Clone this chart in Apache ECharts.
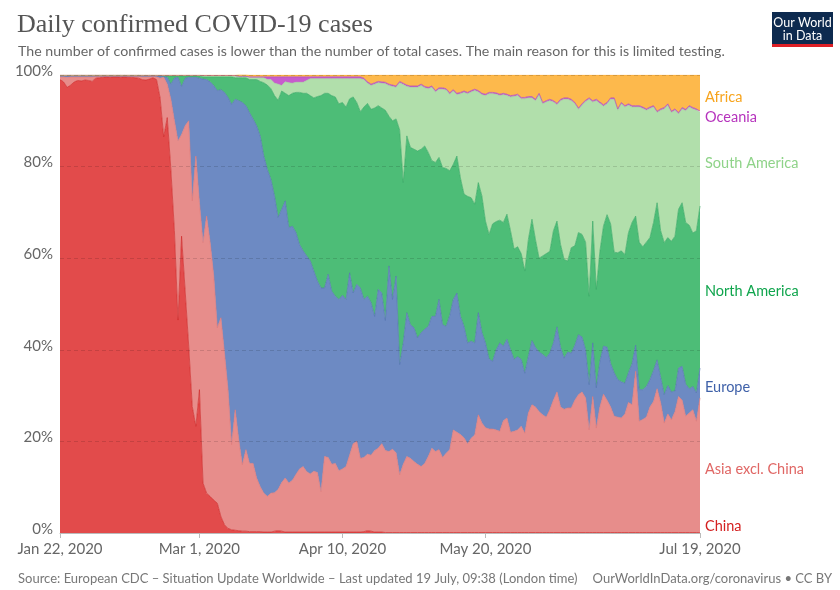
<!DOCTYPE html>
<html><head><meta charset="utf-8">
<script src="https://cdn.jsdelivr.net/npm/echarts@6/dist/echarts.min.js"></script>
<style>html,body{margin:0;padding:0;background:#fff}#c{width:840px;height:590px}</style>
</head><body><div id="c"></div>
<script>
// Daily dates (categories), Jan 22 2020 .. Jul 19 2020
const startDate = '2020-01-22';
const dayCount = 180;
const tickDates = ['2020-01-22', '2020-03-01', '2020-04-10', '2020-05-20', '2020-07-19'];
const tickLabels = ['Jan 22, 2020', 'Mar 1, 2020', 'Apr 10, 2020', 'May 20, 2020', 'Jul 19, 2020'];
const yTicks = [0, 20, 40, 60, 80, 100];

const seriesNames = ['China', 'Asia excl. China', 'Europe', 'North America', 'South America', 'Oceania', 'Africa'];
const areaColors = ['#e24b4b', '#e78d8b', '#6d8ac3', '#4dbd77', '#b1dfab', '#c75ccc', '#fdb94c'];
const lineColors = ['#cf2b2b', '#df7a78', '#5574b2', '#3aa965', '#a2d69c', '#b14bb6', '#f3a531'];
const labelColors = ['#d42020', '#e06765', '#3f61a9', '#10a54d', '#8fd389', '#b633bd', '#f7a41d'];

// Cumulative share (%) read at the upper edge of each band, one value per day
const chinaTop = [
99,98.5,97.3,97.8,98.5,98.8,98.7,98.9,98.8,98.6,
99.3,99.4,99.5,99.6,99.5,99.6,99.6,99.5,99.6,99.5,
99.5,99.4,99.3,99.0,98.9,99.1,99.4,99.0,95,86.5,
90.7,79.5,66,46.5,64.8,53,40.8,27.6,23.3,31.3,
10.9,8.7,8,7.2,6.5,3.6,1.8,1.0,0.7,0.6,
0.5,0.4,0.4,0.3,0.3,0.3,0.3,0.2,0.2,0.2,
0.4,0.5,0.4,0.2,0.2,0.2,0.2,0.2,0.2,0.2,
0.2,0.2,0.2,0.2,0.2,0.2,0.2,0.2,0.2,0.2,
0.2,0.2,0.2,0.2,0.2,0.3,0.5,0.4,0.2,0.2,
0.2,0.1,0.1,0.1,0.1,0.1,0.1,0.1,0.1,0.1,
0.1,0.1,0.1,0.1,0.1,0.1,0.1,0.1,0.1,0.1,
0.1,0.1,0.1,0.1,0.1,0.1,0.1,0.1,0.1,0.1,
0.1,0.1,0.1,0.1,0.1,0.1,0.1,0.1,0.1,0.1,
0.1,0.1,0.1,0.1,0.1,0.1,0.1,0.1,0.1,0.1,
0.1,0.1,0.1,0.1,0.1,0.1,0.1,0.1,0.1,0.1,
0.1,0.1,0.1,0.1,0.1,0.1,0.1,0.1,0.1,0.1,
0.1,0.1,0.1,0.1,0.1,0.1,0.1,0.1,0.1,0.1,
0.1,0.1,0.1,0.1,0.1,0.1,0.1,0.1,0.1,0.1
];
const asiaTop = [
99.6,99.6,99.5,99.6,99.6,99.6,99.6,99.6,99.6,99.6,
99.7,99.7,99.7,99.7,99.7,99.7,99.7,99.7,99.7,99.7,
99.7,99.7,99.7,99.6,99.6,99.6,99.7,99.6,99.3,99.5,
98,94.7,90,85.6,87,88.9,90,72.5,82.3,72.1,
63.4,69.2,63.4,56.1,44.8,47,39.3,31.3,19.3,26.9,
20.3,14.9,18.2,15.2,15.2,12,10.1,8.7,8,8.7,
8.8,9.5,11,12,10.9,11.5,12.8,14,14.5,13.4,
12.9,13.5,13.2,9,16.7,16.5,15,15.2,13.6,14,
14.5,17,19.5,20,16.3,16.5,17.2,17,18,18.5,
19.5,18,17.8,18.3,17.5,12.7,15,16.7,16.3,15.6,
15,14.5,15.2,16.7,18.5,17.8,18.2,16.5,17.4,18.2,
22.5,22,21.5,20.8,19.5,20.7,21.4,25.8,24,23,
22.7,22.7,22.5,22.2,24.5,25.1,22,22.2,22.5,23.3,
21.8,26.2,28,27.5,26.5,25.8,25.3,26.9,29,30.8,
27.5,27,27.3,27.3,29,30.2,30.8,29.5,22.5,29.8,
22.9,27.5,30.3,29,27.5,25.5,25.3,25.1,26,28.5,
28,35.3,24.4,24.8,25.3,27.5,28.7,31.5,28.4,24,
26,24.7,26.5,29.8,29,25.5,26.2,26.9,24.4,29.5
];
const europeTop = [
99.8,99.8,99.8,99.8,99.8,99.8,99.8,99.8,99.8,99.8,
99.8,99.8,99.8,99.8,99.8,99.8,99.8,99.8,99.8,99.8,
99.8,99.8,99.8,99.8,99.8,99.8,99.8,99.8,99.8,99.7,
99.5,98,99.3,99.5,97.5,99.3,99.5,99.5,99.5,99.3,
99.1,99,98.5,97.7,96.6,96.8,96.2,95.1,93.6,94.7,
94.4,94,93.3,91.8,90.4,88.9,86.7,82.3,79.4,77.2,
73.6,68.9,70.7,72.5,66.7,67,65.6,63,61.6,60.5,
59.4,57.2,55,53.5,53.5,56.5,52.8,51.7,51,51.9,
51,56.8,52.4,54.3,53.5,51,51.7,50.3,47.3,53.2,
52.4,46.4,58.3,51,56.1,36.8,41.5,48.1,45.5,44.8,
42.6,43.7,44.5,45.1,47.3,47.3,51,45.5,45.1,47.5,
51,52.4,47.3,45.1,41.5,41.9,41.5,48.1,43.8,41.5,
38,37.5,40,41.5,40.8,42.3,40,37.9,38.5,37.9,
34.9,38.6,42,40.5,39.5,39,38.3,39.3,41.5,45,
40.5,38.2,39.5,39.3,41,43.3,42.8,40,32.4,41.5,
31.7,37.5,40.8,40.6,37,35,33.5,33,32.7,35,
37,41,31.3,31.3,32,33.5,35.5,37.8,34,30.2,
32.2,30.8,31,36,36.4,32.5,31.5,32,30.6,36
];
const northAmericaTop = [
99.9,99.9,99.9,99.9,99.9,99.9,99.9,99.9,99.9,99.9,
99.9,99.9,99.9,99.9,99.9,99.9,99.9,99.9,99.9,99.9,
99.9,99.9,99.9,99.9,99.9,99.9,99.9,99.9,99.9,99.8,
99.8,99.8,99.8,99.8,99.8,99.8,99.8,99.8,99.8,99.8,
99.6,99.6,99.6,99.6,99.6,99.6,99.6,99.6,99.6,99.4,
99.4,99.4,99.4,99.0,99.0,99.0,98.6,98.3,97.8,97,
95.5,94.5,96.5,96,95.5,96,96.2,96.2,96,96,
95.5,95,95.3,95.5,96,96,95.5,95.2,93.7,94,
93,94.8,95.2,94,92,93,93.8,92.5,92.8,93.3,
92.8,92.3,91,90,90.4,88,76.5,86.7,84.2,83.8,
83.4,83.8,84.5,83.1,81.3,80.9,82,79.8,79.6,79.1,
80.5,82.3,77.5,74,73.5,73.2,71.8,76.5,73.6,68.1,
65.2,67.5,68,68.3,67.8,69.6,66,62,62.5,61,
57.2,64.1,68.5,64,60,60.5,61,61.5,66,68.1,
63,59.7,59.4,62.3,62.7,65.6,65.2,63.5,51.7,68.1,
53.2,61.5,67,69.5,67.5,61.3,61.2,61.6,60.8,65.6,
67.8,69.2,63.5,62.5,63.5,64.5,67.8,72.1,66,63.4,
64.5,63.7,64.8,70.7,72.1,67.8,67.2,65.5,66,71.4
];
const southAmericaTop = [
99.9,99.9,99.9,99.9,99.9,99.9,99.9,99.9,99.9,99.9,
99.9,99.9,99.9,99.9,99.9,99.9,99.9,99.9,99.9,99.9,
99.9,99.9,99.9,99.9,99.9,99.9,99.9,99.9,99.9,99.9,
99.9,99.9,99.9,99.9,99.9,99.9,99.9,99.9,99.9,99.9,
99.8,99.8,99.8,99.8,99.8,99.8,99.8,99.8,99.8,99.7,
99.7,99.7,99.7,99.4,99.4,99.4,99.4,99.4,99.0,99.0,
98.2,98,97.7,98.5,98.3,98.2,98.4,98.4,98.4,98.8,
99.2,99.2,99.2,99.2,99.2,99.2,99.2,99.2,99.2,99.2,
99.2,99.2,99.2,99.2,99.2,99.0,98.2,97.7,98.0,98.3,
98.2,98.1,97.7,97.5,97.3,98.3,97.9,97.5,97.3,97.3,
97.3,97.7,97.2,97.0,97.3,96.3,96.9,96.9,96.7,95.8,
96.5,95.7,95.9,96.2,95.9,96.3,96.6,96.3,95.7,95.5,
95.9,95.9,95.8,95.5,95.7,95.5,95.2,95.3,95.5,94.8,
94.8,95.0,95.0,94.4,95.7,93.7,94.1,94.4,94.1,93.5,
94.4,94.7,94.7,94.4,93.7,92.5,93.4,94.2,94.7,94.1,
94.4,93.8,93.2,93.7,94.7,94.7,92.3,93.7,93.0,93.4,
93.0,93.0,93.0,92.7,92.3,92.7,93.0,91.8,92.3,92.6,
93.4,91.8,92.3,91.5,92.6,92.2,93.0,92.6,92.3,91.8
];
const oceaniaTop = [
100,100,100,100,100,100,100,100,100,100,
100,100,100,100,100,100,100,100,100,100,
100,100,100,99.95,99.95,99.95,99.95,99.95,99.95,99.95,
99.95,99.95,99.95,99.95,99.95,99.95,99.95,99.95,99.95,99.95,
99.9,99.9,99.9,99.9,99.9,99.9,99.9,99.9,99.9,99.9,
99.6,99.6,99.6,99.6,99.6,99.6,99.6,99.6,99.6,99.6,
99.6,99.6,99.6,99.6,99.6,99.6,99.6,99.6,99.6,99.6,
99.6,99.6,99.6,99.6,99.6,99.6,99.6,99.6,99.6,99.6,
99.6,99.6,99.6,99.6,99.6,99.3,98.5,98,98.3,98.6,
98.5,98.4,98,97.8,97.6,98.6,98.2,97.8,97.6,97.6,
97.6,98,97.5,97.3,97.6,96.6,97.2,97.2,97,96.1,
96.8,96,96.2,96.5,96.2,96.6,96.9,96.6,96,95.8,
96.2,96.2,96.1,95.8,96,95.8,95.5,95.6,95.8,95.1,
95.1,95.3,95.3,94.7,96,94,94.4,94.7,94.4,93.8,
94.7,95,95,94.7,94,92.8,93.7,94.5,95,94.4,
94.7,94.1,93.5,94,95,95,92.6,94,93.3,93.7,
93.3,93.3,93.3,93,92.6,93,93.3,92.1,92.6,92.9,
93.7,92.1,92.6,91.8,92.9,92.5,93.3,92.9,92.6,92.1
];
const bandTops = [chinaTop, asiaTop, europeTop, northAmericaTop, southAmericaTop, oceaniaTop];

// build categories
const dates = [];
(function () {
  const d0 = new Date(startDate + 'T00:00:00Z');
  for (let i = 0; i < dayCount; i++) {
    const d = new Date(d0.getTime() + i * 86400000);
    dates.push(d.toISOString().slice(0, 10));
  }
})();

// per-series share = difference between consecutive band edges
const shares = seriesNames.map(function (_, s) {
  return dates.map(function (_, i) {
    const top = s < bandTops.length ? bandTops[s][i] : 100;
    const bottom = s === 0 ? 0 : bandTops[s - 1][i];
    return Math.max(0, +(top - bottom).toFixed(3));
  });
});

const FONT = 'Lato, "Noto Sans", sans-serif';
const chart = echarts.init(document.getElementById('c'), null, {renderer: 'canvas'});

const isTick = function (idx, val) { return tickDates.indexOf(val) >= 0; };

const option = {
  animation: false,
  backgroundColor: '#ffffff',
  title: [
    {text: 'Daily confirmed COVID-19 cases', left: 12, top: 7,
     textStyle: {fontFamily: '"Liberation Serif", "DejaVu Serif", serif', fontSize: 26, fontWeight: 'normal', color: '#555555'}},
    {text: 'The number of confirmed cases is lower than the number of total cases. The main reason for this is limited testing.',
     left: 13, top: 39, textStyle: {fontFamily: FONT, fontSize: 14.2, fontWeight: 'normal', color: '#666666'}},
    {text: 'Source: European CDC – Situation Update Worldwide – Last updated 19 July, 09:38 (London time)',
     left: 13, top: 567, textStyle: {fontFamily: FONT, fontSize: 13, fontWeight: 'normal', color: '#777777'}},
    {text: 'OurWorldInData.org/coronavirus • CC BY',
     right: 3, top: 567, textStyle: {fontFamily: FONT, fontSize: 13, fontWeight: 'normal', color: '#777777'}}
  ],
  grid: {left: 60, right: 140, top: 75, bottom: 57, containLabel: false},
  xAxis: {
    type: 'category', data: dates, boundaryGap: false, z: 5,
    axisLine: {lineStyle: {color: '#bbbbbb', width: 1}},
    axisTick: {show: true, interval: isTick, length: 5, lineStyle: {color: '#bbbbbb'}},
    axisLabel: {interval: isTick, color: '#666666', fontSize: 15, fontFamily: FONT, margin: 9,
      formatter: function (v) { const k = tickDates.indexOf(v); return k >= 0 ? tickLabels[k] : ''; }},
    splitLine: {show: false}
  },
  yAxis: {
    type: 'value', min: yTicks[0], max: yTicks[yTicks.length - 1], interval: 20, z: 5,
    axisLine: {show: false}, axisTick: {show: false},
    axisLabel: {formatter: '{value}%', color: '#666666', fontSize: 15, fontFamily: FONT, margin: 7,
      verticalAlign: 'bottom', lineHeight: 8},
    splitLine: {show: true, lineStyle: {color: 'rgba(0,0,0,0.13)', type: [4, 3], width: 1}}
  },
  series: seriesNames.map(function (name, s) {
    return {
      name: name, type: 'line', stack: 'total', data: shares[s],
      symbol: 'none', showSymbol: false, smooth: false,
      lineStyle: {width: 0.7, color: lineColors[s]},
      areaStyle: {color: areaColors[s], opacity: 1},
      emphasis: {disabled: true}, z: 2
    };
  })
};
chart.setOption(option);

// right-side labels at the middle of each band on the last day
(function () {
  const last = dayCount - 1;
  const items = seriesNames.map(function (name, s) {
    const bottom = s === 0 ? 0 : bandTops[s - 1][last];
    const top = s < bandTops.length ? bandTops[s][last] : 100;
    const y = chart.convertToPixel({xAxisIndex: 0, yAxisIndex: 0}, [last, (top + bottom) / 2])[1] + 4;
    return {name: name, color: labelColors[s], y: y};
  });
  const x = chart.convertToPixel({xAxisIndex: 0, yAxisIndex: 0}, [last, 0])[0] + 5;
  const yMax = chart.convertToPixel({xAxisIndex: 0, yAxisIndex: 0}, [last, 0])[1] - 7;
  items.sort(function (a, b) { return a.y - b.y; });
  const gap = 20;
  for (let i = 1; i < items.length; i++) {
    if (items[i].y - items[i - 1].y < gap) items[i].y = items[i - 1].y + gap;
  }
  if (items[items.length - 1].y > yMax) items[items.length - 1].y = yMax;
  for (let i = items.length - 2; i >= 0; i--) {
    if (items[i + 1].y - items[i].y < gap) items[i].y = items[i + 1].y - gap;
  }
  const graphics = [
    {type: 'rect', left: 772, top: 12, shape: {width: 61, height: 32}, style: {fill: '#0d2a4f'}},
    {type: 'rect', left: 772, top: 44, shape: {width: 61, height: 3}, style: {fill: '#dd1f26'}},
    {type: 'text', x: 802.5, y: 23, style: {text: 'Our World', fill: '#ffffff', font: '12.5px Lato, "Noto Sans", sans-serif', align: 'center', verticalAlign: 'middle'}},
    {type: 'text', x: 802.5, y: 35.5, style: {text: 'in Data', fill: '#ffffff', font: '12.5px Lato, "Noto Sans", sans-serif', align: 'center', verticalAlign: 'middle'}}
  ];
  items.forEach(function (it) {
    graphics.push({type: 'text', x: x, y: it.y, z: 10,
      style: {text: it.name, fill: it.color, font: '14.5px ' + FONT, align: 'left', verticalAlign: 'middle'}});
  });
  chart.setOption({graphic: graphics});
})();
</script></body></html>
